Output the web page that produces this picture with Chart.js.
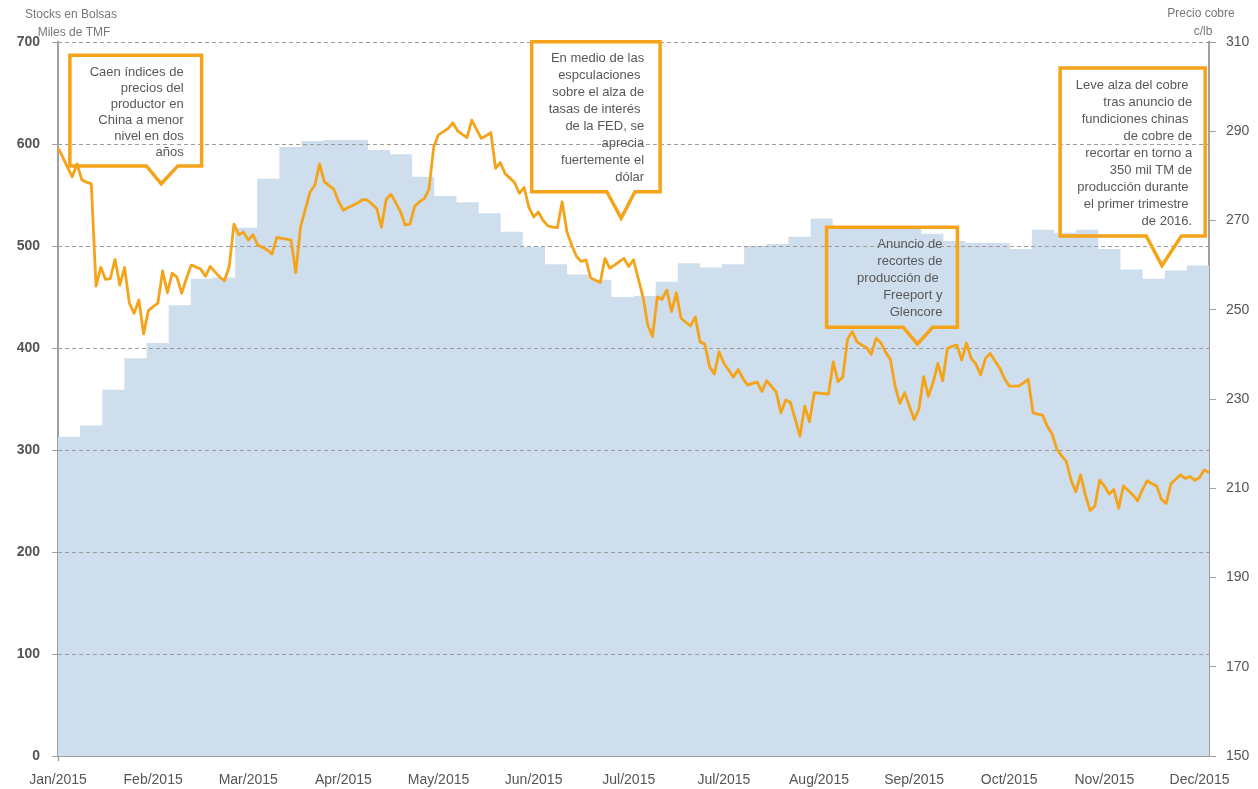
<!DOCTYPE html>
<html lang="es">
<head>
<meta charset="utf-8">
<title>Stocks en bolsas y precio del cobre</title>
<script src="https://cdn.jsdelivr.net/npm/chart.js@4.4.1/dist/chart.umd.min.js"></script>
<style>
  html, body { margin: 0; padding: 0; background: #fff; }
  canvas { display: block; }
</style>
</head>
<body>
<canvas id="grafico" width="1258" height="789"></canvas>
<script>
// etiquetas del eje x (una cada 20 dias habiles)
const meses = ['Jan/2015', 'Feb/2015', 'Mar/2015', 'Apr/2015', 'May/2015', 'Jun/2015', 'Jul/2015',
    'Jul/2015', 'Aug/2015', 'Sep/2015', 'Oct/2015', 'Nov/2015', 'Dec/2015'];

// precio del cobre, c/lb (diario)
const cobre = [
    286.3, 284.2, 281.9, 279.8, 282.7, 279.1, 278.6, 278.2, 255.3, 259.5,
    256.8, 257.0, 261.3, 255.5, 259.5, 251.5, 249.2, 252.2, 244.6, 249.8,
    250.7, 251.5, 258.7, 253.8, 258.2, 257.3, 253.7, 257.0, 260.0, 259.6,
    259.1, 257.5, 259.7, 258.5, 257.3, 256.5, 259.7, 269.2, 266.8, 267.4,
    265.6, 266.8, 264.5, 264.0, 263.4, 262.5, 266.2, 266.0, 265.8, 265.6,
    258.3, 268.6, 272.5, 276.4, 277.9, 282.7, 278.7, 277.8, 277.0, 274.2,
    272.3, 272.9, 273.4, 273.9, 274.7, 274.6, 273.7, 272.7, 268.5, 274.7,
    275.9, 274.0, 272.0, 269.0, 269.2, 273.2, 274.2, 274.9, 277.0, 286.5,
    289.2, 289.9, 290.6, 291.9, 290.1, 289.3, 288.6, 292.5, 290.4, 288.4,
    289.0, 289.7, 281.7, 283.0, 280.5, 279.5, 278.5, 276.1, 277.4, 273.0,
    270.8, 271.9, 270.0, 268.8, 268.5, 268.4, 274.2, 267.5, 264.5, 262.0,
    260.8, 261.2, 257.1, 256.6, 256.1, 261.5, 259.3, 260.0, 260.8, 261.5,
    259.7, 261.2, 257.0, 252.9, 246.6, 244.0, 252.9, 252.3, 254.4, 249.6,
    253.8, 248.1, 247.2, 246.4, 248.4, 242.8, 242.3, 237.2, 235.6, 240.6,
    238.0, 236.5, 234.9, 236.6, 234.6, 233.1, 233.5, 233.8, 231.7, 234.1,
    232.8, 231.6, 226.9, 229.8, 229.2, 225.5, 221.7, 228.4, 224.9, 231.4,
    231.3, 231.2, 231.1, 238.3, 233.9, 234.9, 243.4, 245.1, 242.8, 242.1,
    241.5, 240.0, 243.6, 242.6, 240.5, 238.9, 232.9, 229.0, 231.4, 228.4,
    225.4, 227.7, 235.0, 230.6, 233.7, 238.0, 234.1, 241.3, 241.8, 242.1,
    238.7, 242.5, 239.1, 237.8, 235.4, 239.1, 240.2, 238.5, 236.9, 234.6,
    232.9, 232.9, 232.9, 233.6, 234.4, 226.9, 226.6, 226.4, 223.9, 222.2,
    218.8, 217.3, 216.0, 211.8, 209.2, 213.0, 208.5, 205.0, 206.0, 211.8,
    210.5, 208.7, 209.7, 205.5, 210.5, 209.5, 208.5, 207.2, 209.7, 211.7,
    211.0, 210.5, 207.5, 206.6, 211.0, 212.0, 213.0, 212.2, 212.6, 211.8,
    212.4, 214.1, 213.5
];

// stocks en bolsas, miles de TMF (semanal)
const stocks = [
    313, 324, 359, 390, 405, 442, 468, 469, 518, 566,
    597, 603, 604, 604, 594, 590, 568, 549, 543, 532,
    514, 499, 482, 472, 467, 450, 451, 465, 483, 479,
    482, 500, 502, 509, 527, 519, 519, 519, 519, 512,
    505, 503, 503, 497, 516, 513, 516, 497, 477, 468,
    476, 481, 483
];

const dias = cobre.map((_, i) => i);
const semanas = stocks.map((_, i) => 'S' + i);

// cuadros de comentarios (en unidades de dia y de stocks)
const notas = [
    { texto: ['Caen índices de', 'precios del', 'productor en', 'China a menor', 'nivel en dos', 'años'],
      desde: 2.5, hasta: 30.2, arriba: 687, abajo: 578.5, base: [18.6, 25.2], punta: [21.7, 561], interlinea: 16, margen: 18 },
    { texto: ['En medio de las', 'espculaciones ', 'sobre el alza de', 'tasas de interés ', 'de la FED, se', 'aprecia', 'fuertemente el', 'dólar'],
      desde: 99.6, hasta: 126.6, arriba: 700.3, abajo: 553.2, base: [115.4, 121.3], punta: [118.4, 527.2], interlinea: 17, margen: 16 },
    { texto: ['Anuncio de', 'recortes de', 'producción de ', 'Freeport y', 'Glencore'],
      desde: 161.6, hasta: 189.1, arriba: 518.3, abajo: 420.3, base: [177.7, 183.9], punta: [180.7, 403.9], interlinea: 16.9, margen: 15 },
    { texto: ['Leve alza del cobre ', 'tras anuncio de', 'fundiciones chinas ', 'de cobre de', 'recortar en torno a', '350 mil TM de', 'producción durante ', 'el primer trimestre ', 'de 2016.'],
      desde: 210.7, hasta: 241.2, arriba: 674.5, abajo: 509.8, base: [228.8, 236.2], punta: [232.1, 480.7], interlinea: 17, margen: 13 }
];

const naranjo = '#F5A319';
const celeste = '#CEDEED';
const gris = '#9c9c9c';
const fuente = "'Liberation Sans', Arial, sans-serif";

Chart.defaults.font.family = fuente;
Chart.defaults.color = '#555';

const extras = {
    id: 'extras',
    beforeDatasetDraw(chart, args) {
        // lineas punteadas encima del area de stocks
        if (args.index !== 0) return;
        const { ctx, chartArea, scales } = chart;
        ctx.save();
        ctx.strokeStyle = gris;
        ctx.lineWidth = 1;
        ctx.setLineDash([4, 3]);
        scales.y.ticks.forEach(t => {
            if (t.value === 0) return;
            const y = Math.round(scales.y.getPixelForValue(t.value)) + 0.5;
            ctx.beginPath();
            ctx.moveTo(chartArea.left, y);
            ctx.lineTo(chartArea.right, y);
            ctx.stroke();
        });
        ctx.restore();
    },
    afterDatasetsDraw(chart) {
        const { ctx, scales } = chart;
        const sx = scales.x, sy = scales.y;
        ctx.save();
        notas.forEach(n => {
            const x0 = sx.getPixelForValue(n.desde), x1 = sx.getPixelForValue(n.hasta);
            const y0 = sy.getPixelForValue(n.arriba), y1 = sy.getPixelForValue(n.abajo);
            const b0 = sx.getPixelForValue(n.base[0]), b1 = sx.getPixelForValue(n.base[1]);
            const px = sx.getPixelForValue(n.punta[0]), py = sy.getPixelForValue(n.punta[1]);

            ctx.fillStyle = '#585858';
            ctx.font = '13px ' + fuente;
            ctx.textAlign = 'right';
            ctx.textBaseline = 'middle';
            n.texto.forEach((linea, i) => {
                ctx.fillText(linea, x1 - n.margen, y0 + 17 + i * n.interlinea);
            });

            ctx.strokeStyle = naranjo;
            ctx.lineWidth = 3.5;
            ctx.lineJoin = 'miter';
            ctx.beginPath();
            ctx.moveTo(x0, y0);
            ctx.lineTo(x1, y0);
            ctx.lineTo(x1, y1);
            ctx.lineTo(b1, y1);
            ctx.lineTo(px, py);
            ctx.lineTo(b0, y1);
            ctx.lineTo(x0, y1);
            ctx.closePath();
            ctx.stroke();
        });
        ctx.restore();
    },
    afterDraw(chart) {
        const ctx = chart.ctx;
        ctx.save();
        ctx.fillStyle = '#777';
        ctx.font = '12px ' + fuente;
        ctx.textAlign = 'center';
        ctx.textBaseline = 'middle';
        ctx.fillText('Stocks en Bolsas', 71, 15);
        ctx.fillText('Miles de TMF', 74, 33);
        ctx.fillText('Precio cobre', 1201, 14);
        ctx.fillText('c/lb', 1203, 32);
        ctx.restore();
    }
};

const grafico = new Chart(document.getElementById('grafico'), {
    type: 'line',
    data: {
        labels: dias,
        datasets: [{
            label: 'Precio cobre',
            data: cobre,
            xAxisID: 'x',
            yAxisID: 'y2',
            borderColor: naranjo,
            borderWidth: 2.8,
            borderJoinStyle: 'round',
            pointRadius: 0,
            tension: 0,
            fill: false
        }, {
            label: 'Stocks en Bolsas',
            data: stocks,
            xAxisID: 'xs',
            yAxisID: 'y',
            stepped: true,
            borderWidth: 0,
            borderColor: celeste,
            backgroundColor: celeste,
            pointRadius: 0,
            fill: 'origin'
        }]
    },
    options: {
        responsive: false,
        animation: false,
        devicePixelRatio: 1,
        layout: { padding: { top: 42, left: 0, right: 0, bottom: 0 } },
        plugins: {
            legend: { display: false },
            tooltip: { enabled: false }
        },
        scales: {
            x: {
                type: 'category',
                offset: false,
                afterFit: s => { s.height = 33; },
                border: { color: '#a0a0a0', width: 2 },
                grid: {
                    drawOnChartArea: false,
                    drawTicks: true,
                    tickLength: 5,
                    tickWidth: 1.5,
                    tickColor: c => (c.index % 20 === 0 ? '#a0a0a0' : 'rgba(0,0,0,0)')
                },
                ticks: {
                    autoSkip: false,
                    maxRotation: 0,
                    minRotation: 0,
                    padding: 11,
                    color: '#555',
                    font: { size: 14 },
                    callback: (v, i) => (i % 20 === 0 ? meses[i / 20] : null)
                }
            },
            xs: {
                type: 'category',
                labels: semanas,
                offset: false,
                display: false
            },
            y: {
                position: 'left',
                min: 0,
                max: 700,
                afterFit: s => { s.width = 58; },
                border: { color: '#a0a0a0', width: 2 },
                grid: { drawOnChartArea: false, drawTicks: true, tickLength: 6, tickColor: '#a0a0a0' },
                ticks: { stepSize: 100, padding: 12, color: '#555', font: { size: 14, weight: 'bold' } }
            },
            y2: {
                position: 'right',
                min: 150,
                max: 310,
                afterFit: s => { s.width = 49; },
                border: { color: '#a0a0a0', width: 2 },
                grid: { drawOnChartArea: false, drawTicks: true, tickLength: 7, tickColor: '#a0a0a0' },
                ticks: { stepSize: 20, padding: 10, color: '#555', font: { size: 14 } }
            }
        }
    },
    plugins: [extras]
});
</script>
</body>
</html>
